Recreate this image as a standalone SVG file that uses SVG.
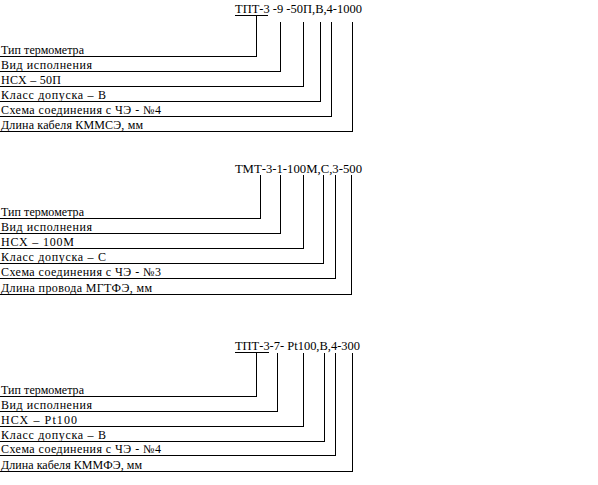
<svg xmlns="http://www.w3.org/2000/svg" width="598" height="485" viewBox="0 0 598 485">
<style>
text{font-family:"Liberation Serif","Times New Roman",serif;font-size:12px;fill:#000}
.c path,.u{fill:none;stroke:#000;stroke-width:1;shape-rendering:crispEdges}
</style>
<rect width="598" height="485" fill="#fff"/>
<g id="block1">
<text x="235" y="13" textLength="127" lengthAdjust="spacingAndGlyphs">ТПТ-3 -9 -50П,В,4-1000</text>
<path class="u" d="M235 15.5H268"/>
<text x="1" y="54" textLength="83">Тип термометра</text>
<text x="1" y="69" textLength="91">Вид исполнения</text>
<text x="1" y="84" textLength="60">НСХ – 50П</text>
<text x="1" y="99" textLength="105">Класс допуска – В</text>
<text x="1" y="114" textLength="160">Схема соединения с ЧЭ - №4</text>
<text x="1" y="129" textLength="142">Длина кабеля КММСЭ, мм</text>
</g>
<g id="block2">
<text x="235" y="173" textLength="127" lengthAdjust="spacingAndGlyphs">ТМТ-3-1-100М,С,3-500</text>
<text x="1" y="216" textLength="83">Тип термометра</text>
<text x="1" y="231" textLength="91">Вид исполнения</text>
<text x="1" y="246" textLength="73">НСХ – 100М</text>
<text x="1" y="261" textLength="105">Класс допуска – С</text>
<text x="1" y="276" textLength="160">Схема соединения с ЧЭ - №3</text>
<text x="1" y="292" textLength="151">Длина провода МГТФЭ, мм</text>
</g>
<g id="block3">
<text x="235" y="350" textLength="125" lengthAdjust="spacingAndGlyphs">ТПТ-3-7- Pt100,В,4-300</text>
<path class="u" d="M235 352.5H269"/>
<text x="1" y="394" textLength="83">Тип термометра</text>
<text x="1" y="409" textLength="91">Вид исполнения</text>
<text x="1" y="424" textLength="76">НСХ – Pt100</text>
<text x="1" y="439" textLength="105">Класс допуска – В</text>
<text x="1" y="453" textLength="160">Схема соединения с ЧЭ - №4</text>
<text x="1" y="469" textLength="141">Длина кабеля КММФЭ, мм</text>
</g>
<g id="connectors" class="c">
<path d="M256.5 15.5V56.5H0"/>
<path d="M280.5 22V71.5H0"/>
<path d="M303.5 22V86.5H0"/>
<path d="M320.5 22V101.5H0"/>
<path d="M331.5 22V116.5H0"/>
<path d="M352.5 22V131.5H0"/>
<path d="M260.5 175V218.5H0"/>
<path d="M280.5 175V233.5H0"/>
<path d="M303.5 175V248.5H0"/>
<path d="M323.5 175V263.5H0"/>
<path d="M335.5 175V278.5H0"/>
<path d="M351.5 175V294.5H0"/>
<path d="M256.5 352.5V396.5H0"/>
<path d="M277.5 353V411.5H0"/>
<path d="M303.5 353V426.5H0"/>
<path d="M324.5 353V441.5H0"/>
<path d="M335.5 353V455.5H0"/>
<path d="M352.5 353V471.5H0"/>
</g>
</svg>
